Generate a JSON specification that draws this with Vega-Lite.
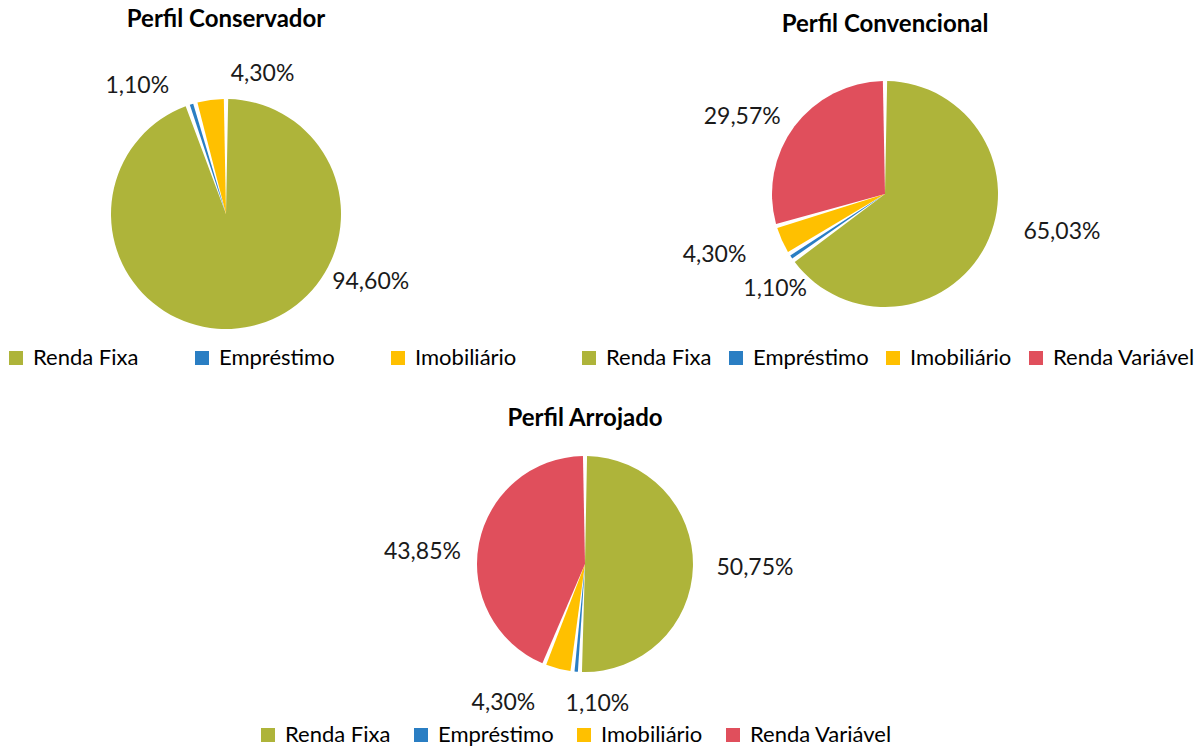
{
  "$schema": "https://vega.github.io/schema/vega-lite/v6.json",
  "background": "white",
  "padding": {"top": 8, "left": 5, "right": 5, "bottom": 0},
  "config": {
    "font": "Lato",
    "view": {"stroke": null},
    "locale": {"number": {"decimal": ",", "thousands": ".", "grouping": [3], "currency": ["R$", ""]}},
    "title": {"fontSize": 24, "fontWeight": "bold", "font": "Lato", "color": "#000000", "offset": 0},
    "legend": {
      "orient": "none",
      "direction": "horizontal",
      "title": null,
      "symbolType": "square",
      "symbolSize": 196,
      "symbolStrokeWidth": 0,
      "labelFont": "Lato",
      "labelFontSize": 22,
      "labelColor": "#000000",
      "labelOffset": 6,
      "labelLimit": 400
    }
  },
  "datasets": {
    "conservador": [
      {"tipo": "Renda Fixa", "valor": 0.946, "ordem": 1},
      {"tipo": "Empréstimo", "valor": 0.011, "ordem": 2},
      {"tipo": "Imobiliário", "valor": 0.043, "ordem": 3}
    ],
    "convencional": [
      {"tipo": "Renda Fixa", "valor": 0.6503, "ordem": 1},
      {"tipo": "Empréstimo", "valor": 0.011, "ordem": 2},
      {"tipo": "Imobiliário", "valor": 0.043, "ordem": 3},
      {"tipo": "Renda Variável", "valor": 0.2957, "ordem": 4}
    ],
    "arrojado": [
      {"tipo": "Renda Fixa", "valor": 0.5075, "ordem": 1},
      {"tipo": "Empréstimo", "valor": 0.011, "ordem": 2},
      {"tipo": "Imobiliário", "valor": 0.043, "ordem": 3},
      {"tipo": "Renda Variável", "valor": 0.4385, "ordem": 4}
    ]
  },
  "spacing": 15,
  "resolve": {"scale": {"color": "independent"}, "legend": {"color": "independent"}},
  "vconcat": [
    {
      "hconcat": [
        {
          "title": "Perfil Conservador",
          "width": 442,
          "height": 356,
          "data": {"name": "conservador"},
          "encoding": {
            "theta": {"field": "valor", "type": "quantitative", "stack": true},
            "order": {"field": "ordem", "type": "quantitative"},
            "color": {
              "field": "tipo",
              "type": "nominal",
              "scale": {"domain": ["Renda Fixa", "Empréstimo", "Imobiliário"], "range": ["#AEB43A", "#2A7EC3", "#FFC000"]},
              "legend": {"legendX": 0, "legendY": 311, "columnPadding": 52}
            }
          },
          "layer": [
            {"mark": {"type": "arc", "outerRadius": 115, "padAngle": 0.038}},
            {
              "mark": {
                "type": "text",
                "fontSize": 23,
                "color": "#1a1a1a",
                "radius": {"expr": "datum.tipo === 'Renda Fixa' ? 160 : datum.tipo === 'Empréstimo' ? 156 : 145"},
                "thetaOffset": {"expr": "datum.tipo === 'Renda Fixa' ? -0.96 : datum.tipo === 'Empréstimo' ? -0.3 : 0.39"}
              },
              "encoding": {"text": {"field": "valor", "type": "quantitative", "format": ".2%"}, "color": {"value": "#1a1a1a"}}
            }
          ]
        },
        {
          "title": {"text": "Perfil Convencional", "dy": 5},
          "width": 610,
          "height": 316,
          "data": {"name": "convencional"},
          "encoding": {
            "theta": {"field": "valor", "type": "quantitative", "stack": true},
            "order": {"field": "ordem", "type": "quantitative"},
            "color": {
              "field": "tipo",
              "type": "nominal",
              "scale": {"domain": ["Renda Fixa", "Empréstimo", "Imobiliário", "Renda Variável"], "range": ["#AEB43A", "#2A7EC3", "#FFC000", "#E04F5C"]},
              "legend": {"legendX": -2, "legendY": 311, "columnPadding": 13}
            }
          },
          "layer": [
            {"mark": {"type": "arc", "outerRadius": 113, "padAngle": 0.038}},
            {
              "mark": {
                "type": "text",
                "fontSize": 23,
                "color": "#1a1a1a",
                "radius": {"expr": "datum.tipo === 'Renda Fixa' ? 181 : datum.tipo === 'Empréstimo' ? 145 : datum.tipo === 'Imobiliário' ? 181 : 162"},
                "thetaOffset": {"expr": "datum.tipo === 'Renda Fixa' ? -0.26 : datum.tipo === 'Empréstimo' ? -0.12 : datum.tipo === 'Imobiliário' ? 0.08 : -0.15"}
              },
              "encoding": {"text": {"field": "valor", "type": "quantitative", "format": ".2%"}, "color": {"value": "#1a1a1a"}}
            }
          ]
        }
      ],
      "spacing": 133,
      "bounds": "flush",
      "resolve": {"scale": {"color": "independent"}, "legend": {"color": "independent"}}
    },
    {
      "title": {"text": "Perfil Arrojado", "offset": 10},
      "width": 1160,
      "height": 246,
      "data": {"name": "arrojado"},
      "encoding": {
        "theta": {"field": "valor", "type": "quantitative", "stack": true},
        "order": {"field": "ordem", "type": "quantitative"},
        "color": {
          "field": "tipo",
          "type": "nominal",
          "scale": {"domain": ["Renda Fixa", "Empréstimo", "Imobiliário", "Renda Variável"], "range": ["#AEB43A", "#2A7EC3", "#FFC000", "#E04F5C"]},
          "legend": {"legendX": 252, "legendY": 283, "columnPadding": 19}
        }
      },
      "layer": [
        {"mark": {"type": "arc", "outerRadius": 108, "padAngle": 0.038}},
        {
          "mark": {
            "type": "text",
            "fontSize": 23,
            "color": "#1a1a1a",
            "radius": {"expr": "datum.tipo === 'Renda Fixa' ? 170 : datum.tipo === 'Empréstimo' ? 141 : datum.tipo === 'Imobiliário' ? 161 : 163"},
            "thetaOffset": {"expr": "datum.tipo === 'Renda Fixa' ? 0 : datum.tipo === 'Empréstimo' ? -0.17 : datum.tipo === 'Imobiliário' ? 0.28 : -0.12"}
          },
          "encoding": {"text": {"field": "valor", "type": "quantitative", "format": ".2%"}, "color": {"value": "#1a1a1a"}}
        }
      ]
    }
  ]
}
